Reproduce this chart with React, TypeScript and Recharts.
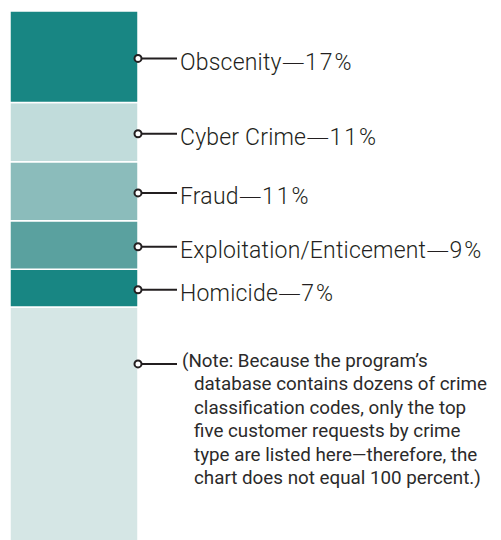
import React from 'react';
import { BarChart, Bar, XAxis, YAxis, LabelList } from 'recharts';

// top to bottom as drawn in the column
const crimeTypes = ['Obscenity', 'Cyber Crime', 'Fraud', 'Exploitation/Enticement', 'Homicide'];
const crimeShares = [17, 11, 11, 9, 7];
const otherShare = 45;
const segmentColors = ['#188683', '#c1dcdb', '#8bbcbb', '#5aa19f', '#188683'];
const otherColor = '#d5e6e5';

const noteLines = [
  "(Note: Because the program\u2019s",
  'database contains dozens of crime',
  'classification codes, only the top',
  'five customer requests by crime',
  'type are listed here\u2014therefore, the',
  'chart does not equal 100 percent.)',
];

const row: Record<string, string | number> = { name: 'requests', other: otherShare };
crimeTypes.forEach((c, i) => {
  row['k' + i] = crimeShares[i];
});
const data = [row];

const ink = '#231f20';

const Callout = (props: any) => {
  const { x, y, width, height, name, share } = props;
  const cx = x + width;
  const cy = y + height / 2 + 1.7;
  return (
    <g>
      <line x1={cx + 3} y1={cy} x2={cx + 39} y2={cy} stroke={ink} strokeWidth={2} />
      <circle cx={cx} cy={cy} r={3.5} fill="#fff" stroke={ink} strokeWidth={2} />
      <text
        x={cx + 42}
        y={cy + 11.5}
        fill={ink}
        fontSize={23}
        fontWeight={300}
        letterSpacing={0.2}
        fontFamily="Roboto, sans-serif"
      >
        {name}
        <tspan fontFamily="DejaVu Sans, sans-serif" fontWeight={200}>{'\u2014'}</tspan>
        <tspan letterSpacing={2}>{share}%</tspan>
      </text>
    </g>
  );
};

const NoteCallout = (props: any) => {
  const { x, y, width } = props;
  const cx = x + width;
  const cy = y + 57;
  return (
    <g>
      <line x1={cx + 3} y1={cy} x2={cx + 39} y2={cy} stroke={ink} strokeWidth={2} />
      <circle cx={cx} cy={cy} r={3.5} fill="#fff" stroke={ink} strokeWidth={2} />
      <text fill="#2b2a2a" fontSize={18.8} fontFamily="Roboto, sans-serif">
        {noteLines.map((l, i) => (
          <tspan key={i} x={cx + (i === 0 ? 44 : 56)} y={cy + 3 + i * 23.5}>
            {l}
          </tspan>
        ))}
      </text>
    </g>
  );
};

export default function App() {
  const stackOrder = [4, 3, 2, 1, 0];
  return (
    <BarChart
      width={493}
      height={541}
      data={data}
      margin={{ top: 3, right: 363, bottom: 0, left: 2 }}
      barCategoryGap={0}
    >
      <XAxis dataKey="name" hide />
      <YAxis hide domain={[0, 100]} />
      <Bar dataKey="other" stackId="a" fill={otherColor} stroke="#fff" strokeWidth={1.5} isAnimationActive={false}>
        <LabelList dataKey="other" content={NoteCallout} />
      </Bar>
      {stackOrder.map((i) => (
        <Bar
          key={i}
          dataKey={'k' + i}
          stackId="a"
          fill={segmentColors[i]}
          stroke="#fff"
          strokeWidth={1.5}
          isAnimationActive={false}
        >
          <LabelList
            dataKey={'k' + i}
            content={(p: any) => <Callout {...p} name={crimeTypes[i]} share={crimeShares[i]} />}
          />
        </Bar>
      ))}
    </BarChart>
  );
}
